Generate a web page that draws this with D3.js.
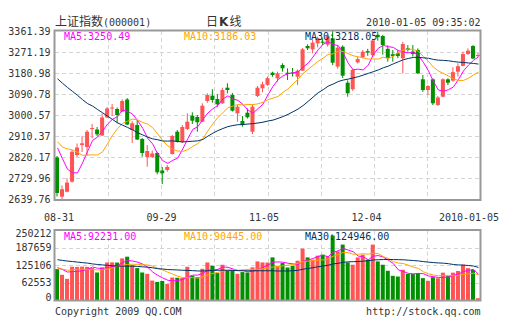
<!DOCTYPE html>
<html><head><meta charset="utf-8">
<script src="https://cdn.jsdelivr.net/npm/d3@7"></script>
<style>
html,body{margin:0;padding:0;background:#fff;}
svg{display:block;}
text{font-family:"DejaVu Sans Mono",monospace;font-size:10px;fill:#333;}
</style></head><body>
<svg id="chart" width="505" height="330"></svg>
<script>
// Trading days, 2009-08-31 .. 2010-01-05
const days = ["08-31",
 "09-01","09-02","09-03","09-04","09-07","09-08","09-09","09-10","09-11","09-14","09-15","09-16","09-17","09-18","09-21","09-22","09-23","09-24","09-25","09-28","09-29","09-30",
 "10-09","10-12","10-13","10-14","10-15","10-16","10-19","10-20","10-21","10-22","10-23","10-26","10-27","10-28","10-29","10-30",
 "11-02","11-03","11-04","11-05","11-06","11-09","11-10","11-11","11-12","11-13","11-16","11-17","11-18","11-19","11-20","11-23","11-24","11-25","11-26","11-27","11-30",
 "12-01","12-02","12-03","12-04","12-07","12-08","12-09","12-10","12-11","12-14","12-15","12-16","12-17","12-18","12-21","12-22","12-23","12-24","12-25","12-28","12-29","12-30","12-31",
 "2010-01-04","2010-01-05"];

// Daily OHLC of 上证指数
const open = [2819.6,2652.0,2673.1,2716.0,2830.3,2873.1,2864.6,2941.7,2939.5,2913.9,
 2990.9,3029.5,3027.3,3015.8,3068.0,2937.4,2958.8,2898.8,2821.8,2821.8,
 2838.9,2763.9,2766.1,2834.6,2930.1,2886.0,2941.7,2998.6,2993.1,2973.0,
 3061.6,3084.3,3070.2,3051.8,3118.6,3087.3,3008.9,2976.0,3011.5,2930.1,
 3083.0,3116.0,3130.9,3182.8,3158.8,3215.8,3182.8,3183.6,3165.7,3191.4,
 3297.1,3283.0,3308.7,3315.6,3303.0,3330.0,3209.0,3294.0,3140.0,3111.7,
 3227.0,3249.0,3275.0,3258.0,3345.0,3340.0,3285.0,3262.0,3266.0,3244.5,
 3287.0,3273.0,3280.0,3154.5,3108.7,3154.5,3044.5,3080.0,3154.5,3149.0,
 3187.0,3212.0,3263.0,3297.0,3254.47];
const high = [2826.0,2700.0,2730.5,2851.7,2879.6,2911.7,2937.4,2963.1,2950.2,3008.1,
 3035.9,3048.7,3033.8,3068.9,3074.4,2975.9,2980.2,2903.1,2873.2,2849.6,
 2843.2,2778.9,2787.5,2916.0,2937.4,2958.8,3008.9,3013.2,3001.6,3051.8,
 3094.6,3111.7,3090.3,3118.6,3137.4,3096.0,3044.5,2997.3,3029.5,3044.5,
 3125.8,3144.3,3166.4,3187.1,3187.1,3223.0,3201.6,3202.9,3196.5,3288.6,
 3304.4,3322.8,3337.0,3330.1,3345.0,3361.39,3300.0,3300.0,3150.0,3200.0,
 3250.0,3280.0,3285.0,3328.0,3358.0,3345.0,3300.0,3280.0,3280.0,3315.0,
 3301.0,3301.0,3287.0,3173.0,3130.0,3159.0,3083.0,3159.0,3159.0,3206.0,
 3223.0,3273.0,3287.0,3301.0,3267.0];
const low = [2652.6,2639.76,2670.0,2712.0,2821.7,2843.0,2827.3,2901.9,2911.7,2911.7,
 2988.8,2997.3,2966.1,3014.5,2958.8,2881.7,2894.5,2823.1,2780.2,2817.5,
 2747.7,2706.1,2758.8,2832.5,2883.9,2881.7,2937.4,2963.1,2930.1,2971.6,
 3054.3,3054.3,3037.2,3048.8,3094.6,3016.6,2973.0,2951.5,2986.6,2920.0,
 3078.7,3099.0,3126.6,3165.7,3144.3,3187.1,3151.5,3166.5,3130.1,3190.1,
 3280.0,3265.9,3291.6,3301.4,3295.0,3215.0,3200.0,3160.0,3080.0,3105.0,
 3222.0,3244.0,3255.0,3250.0,3320.0,3260.0,3230.0,3230.0,3245.0,3180.0,
 3273.0,3252.0,3177.0,3101.0,3087.0,3044.0,3040.0,3078.0,3130.0,3144.0,
 3166.0,3210.0,3259.0,3241.0,3250.0];
const close = [2667.74,2683.72,2712.30,2844.5,2862.4,2880.4,2930.1,2946.0,2919.0,2990.9,
 3029.5,3033.8,3001.6,3061.6,2960.9,2966.1,2896.7,2838.9,2847.5,2836.8,
 2756.2,2751.9,2779.43,2911.72,2887.3,2950.2,2973.0,2977.2,2970.4,3041.5,
 3087.3,3065.9,3047.5,3108.7,3108.7,3020.1,3037.2,2958.8,2991.8,3037.2,
 3118.6,3133.1,3159.6,3173.0,3180.2,3201.6,3177.2,3179.4,3191.4,3283.0,
 3287.3,3311.3,3330.1,3311.3,3338.7,3225.6,3290.0,3170.0,3094.6,3195.3,
 3241.0,3272.8,3269.0,3320.7,3335.0,3301.4,3245.0,3254.0,3254.0,3305.7,
 3280.0,3263.0,3180.2,3108.7,3125.8,3051.7,3076.6,3154.5,3140.0,3185.05,
 3210.5,3262.6,3277.14,3243.76,3258.5];
// Volume
const volume = [111300,90660,76150,119670,118900,120100,119300,114950,99000,117130,
 135260,135500,134800,149760,155930,125830,114950,99000,94280,69990,
 65270,68500,58020,80870,80000,79500,119670,87030,82320,112410,
 135260,123290,96820,126920,106250,105800,94280,100450,99000,117850,
 138890,135260,134900,153390,123290,133080,117130,123290,141420,184940,
 153390,145050,159560,163180,157020,232080,175150,199450,135260,126920,
 153390,163180,145050,199450,138890,126920,105160,87030,84490,108790,
 94280,94280,96820,78690,68900,82150,78360,98430,85940,98415,
 104400,127300,114700,108200,6555];
// Sessions before 08-31 that feed the moving averages
const closeBefore = [3266,3257,3346,3372,3434,3433,3266,3360,3412,3462,3471,3428,3356,3261,
 3266,3274,3113,3145,3047,2871,2916,2786,2889,2962,3012,2919,2936,2922,2860.69];
const volumeBefore = [165000,150000,170000,175000,180000,172000,200000,160000,168000,175000,
 182000,170000,160000,150000,140000,132000,150000,128000,135000,164000,
 102000,120000,98000,105000,114000,128000,121000,112000,112700];

const priceTicks = [2639.76,2729.96,2820.17,2910.37,3000.57,3090.78,3180.98,3271.19,3361.39];
const volumeTicks = [0,62553,125106,187659,250212];
const xTickLabels = ["08-31","09-29","11-05","12-04","2010-01-05"];
const maPeriods = [5,10,30];
const maColors = ["#ff00ff","#ffa500","#003366"];
const priceLegend = ["MA5:3250.49","MA10:3186.03","MA30:3218.05"];
const volumeLegend = ["MA5:92231.00","MA10:90445.00","MA30:124946.00"];

const RED = "#ff5454", GREEN = "#009000";
const svg = d3.select("#chart");
svg.append("rect").attr("width",505).attr("height",330).attr("fill","#fff");

const L = 55, R = 480;
const x = d3.scaleBand().domain(d3.range(days.length)).range([L, R]).paddingInner(0.2);
const xc = i => x(i) + 2.5;
const y = d3.scaleLinear().domain([2639.76, 3361.39]).range([199.5, 31]);
const yv = d3.scaleLinear().domain([0, 250212]).range([300, 230.5]);

function movingAverage(series, before, n) {
  const all = before.concat(series), off = before.length;
  return series.map((_, i) => d3.mean(all.slice(off + i - n + 1, off + i + 1)));
}

const gridX = d3.range(1, 8).map(k => L + k * (R - L) / 8);
function grid(top, bottom, ys) {
  const g = svg.append("g").attr("stroke","#d4d4d4").attr("stroke-dasharray","4,3").attr("stroke-width",1);
  ys.forEach(v => g.append("line").attr("x1",L).attr("x2",R).attr("y1",Math.round(v)+0.5).attr("y2",Math.round(v)+0.5));
  gridX.forEach(v => g.append("line").attr("x1",Math.round(v)+0.5).attr("x2",Math.round(v)+0.5).attr("y1",top).attr("y2",bottom));
}
grid(31, 199.5, priceTicks.slice(1, -1).map(y));
grid(230.5, 300, volumeTicks.slice(1, -1).map(yv));

const isUp = i => close[i] >= open[i];

// Candles
const cg = svg.append("g");
d3.range(days.length).forEach(i => {
  const col = isUp(i) ? RED : GREEN;
  cg.append("rect").attr("x", x(i) + 1.5).attr("width", 1)
    .attr("y", y(high[i])).attr("height", Math.max(1, y(low[i]) - y(high[i]))).attr("fill", col);
  const top = y(Math.max(open[i], close[i])), bot = y(Math.min(open[i], close[i]));
  cg.append("rect").attr("x", x(i)).attr("width", x.bandwidth())
    .attr("y", top).attr("height", Math.max(1, bot - top)).attr("fill", col);
});

// Volume bars
svg.append("g").selectAll("rect").data(volume).join("rect")
  .attr("x", (d, i) => x(i)).attr("width", x.bandwidth())
  .attr("y", d => yv(d)).attr("height", d => 300 - yv(d))
  .attr("fill", (d, i) => isUp(i) ? RED : GREEN);

// Moving averages
maPeriods.forEach((n, k) => {
  const mp = movingAverage(close, closeBefore, n);
  svg.append("path").attr("d", d3.line().x((d, i) => xc(i)).y(d => y(d))(mp))
    .attr("fill","none").attr("stroke", maColors[k]).attr("stroke-width",1);
  const mv = movingAverage(volume, volumeBefore, n);
  svg.append("path").attr("d", d3.line().x((d, i) => xc(i)).y(d => yv(d))(mv))
    .attr("fill","none").attr("stroke", maColors[k]).attr("stroke-width",1);
});

// Frames
[[31, 199.5], [230.5, 300]].forEach(([t, b]) =>
  svg.append("rect").attr("x", L - 0.5).attr("y", t - 0.5).attr("width", R - L + 1).attr("height", b - t + 1)
    .attr("fill","none").attr("stroke","#999").attr("stroke-width",2));

// Legends
const legX = [64, 184, 305];
priceLegend.forEach((t, k) => svg.append("text").attr("x", legX[k]).attr("y", 40).style("fill", maColors[k]).text(t));
volumeLegend.forEach((t, k) => svg.append("text").attr("x", legX[k]).attr("y", 240).style("fill", maColors[k]).text(t));

// Axis labels
priceTicks.forEach(v => svg.append("text").attr("x", 50.5).attr("y", y(v)).attr("dy","0.36em")
  .attr("text-anchor","end").text(v.toFixed(2)));
volumeTicks.forEach(v => svg.append("text").attr("x", 51.5).attr("y", Math.max(233.5, Math.min(297, yv(v)))).attr("dy","0.36em")
  .attr("text-anchor","end").text(v));
const xl = d3.scalePoint().domain(xTickLabels).range([59, 469]);
xTickLabels.forEach(t => svg.append("text").attr("x", xl(t)).attr("y", 221).attr("text-anchor","middle").text(t));

// Header
const title = svg.append("text").attr("y", 25.5);
title.append("tspan").attr("x", 55).style("font-size","12px").style("font-family","'Noto Sans CJK SC'").text("上证指数");
title.append("tspan").attr("x", 103).text("(000001)");
const kl = svg.append("text").attr("y", 25.5).style("font-size","12px").style("font-family","'Noto Sans CJK SC'");
kl.append("tspan").attr("x", 206).text("日");
kl.append("tspan").attr("x", 219).style("font-weight","bold").style("font-family","'DejaVu Sans'").text("K");
kl.append("tspan").attr("x", 229.5).text("线");
svg.append("text").attr("x", 480.5).attr("y", 26).attr("text-anchor","end").text("2010-01-05 09:35:02");

// Footer
svg.append("text").attr("x", 55).attr("y", 315).text("Copyright 2009 QQ.COM");
svg.append("text").attr("x", 480.5).attr("y", 315).attr("text-anchor","end").text("http://stock.qq.com");
</script>
</body></html>
